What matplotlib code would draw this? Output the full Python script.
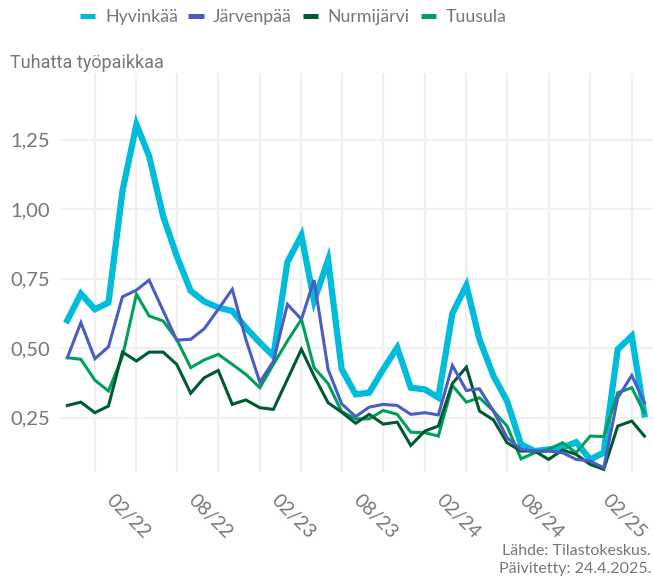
import matplotlib
matplotlib.use("Agg")
import matplotlib.pyplot as plt
import matplotlib.dates as mdates
import matplotlib.transforms as mtransforms
import numpy as np
import pandas as pd
from matplotlib.lines import Line2D

# monthly data 09/2021 - 03/2025, thousands of job vacancies
months = pd.date_range("2021-09-01", "2025-03-01", freq="MS")

hyvinkaa = [0.60, 0.696, 0.64, 0.664, 1.065, 1.305, 1.191, 0.975, 0.832, 0.706, 0.668,
            0.646, 0.634, 0.574, 0.52, 0.472, 0.81, 0.906, 0.67, 0.817, 0.425,
            0.334, 0.34, 0.424, 0.502, 0.358, 0.352, 0.322, 0.625, 0.726, 0.532,
            0.40, 0.31, 0.154, 0.13, 0.136, 0.142, 0.162, 0.10, 0.124, 0.496, 0.544, 0.262]
jarvenpaa = [0.466, 0.592, 0.462, 0.505, 0.685, 0.709, 0.745, 0.635, 0.529, 0.532, 0.570,
             0.64, 0.712, 0.532, 0.378, 0.453, 0.658, 0.604, 0.745, 0.424, 0.30,
             0.254, 0.288, 0.298, 0.294, 0.262, 0.268, 0.26, 0.438, 0.348, 0.354,
             0.274, 0.178, 0.136, 0.13, 0.13, 0.124, 0.10, 0.094, 0.07, 0.322, 0.402, 0.304]
nurmijarvi = [0.294, 0.306, 0.268, 0.292, 0.486, 0.454, 0.486, 0.486, 0.442, 0.338, 0.394,
              0.42, 0.298, 0.314, 0.286, 0.28, 0.388, 0.496, 0.40, 0.304, 0.27,
              0.23, 0.262, 0.227, 0.234, 0.15, 0.202, 0.22, 0.373, 0.432, 0.274,
              0.242, 0.16, 0.13, 0.13, 0.10, 0.134, 0.118, 0.082, 0.064, 0.22, 0.238, 0.184]
tuusula = [0.466, 0.46, 0.385, 0.346, 0.47, 0.694, 0.616, 0.598, 0.532, 0.43, 0.458,
           0.478, 0.442, 0.406, 0.358, 0.442, 0.526, 0.604, 0.43, 0.373, 0.272,
           0.246, 0.246, 0.276, 0.262, 0.198, 0.196, 0.184, 0.366, 0.306, 0.322,
           0.274, 0.22, 0.102, 0.124, 0.136, 0.16, 0.124, 0.184, 0.182, 0.34, 0.358, 0.268]

names = ["Hyvinkää", "Järvenpää", "Nurmijärvi", "Tuusula"]
colors = ["#00bcdc", "#4b5cc4", "#005a2f", "#00a05c"]
widths = [4.5, 2.2, 2.2, 2.2]
series = [hyvinkaa, jarvenpaa, nurmijarvi, tuusula]

yticks = [0.25, 0.50, 0.75, 1.00, 1.25]
ytick_labels = ["0,25", "0,50", "0,75", "1,00", "1,25"]

txt = "#777777"
plt.rcParams["font.family"] = ["Lato", "DejaVu Sans"]

fig = plt.figure(figsize=(6.53, 5.79), dpi=100)
ax = fig.add_axes([61 / 653, 1 - 471.7 / 579, 592 / 653, (471.7 - 73) / 579])

# thin lines first, Järvenpää drawn over Hyvinkää like in the original
for i in [3, 2, 0, 1]:
    ax.plot(months, series[i], color=colors[i], lw=widths[i], solid_joinstyle="miter",
            zorder=3 if i else 2.5)

ax.set_ylim(0.0558, 1.49)
ax.set_xlim(months[0] - pd.Timedelta(days=14), months[-1] + pd.Timedelta(days=19))
ax.set_yticks(yticks)
ax.set_yticklabels(ytick_labels)

ax.xaxis.set_major_locator(mdates.MonthLocator(bymonth=[2, 8]))
ax.xaxis.set_minor_locator(mdates.MonthLocator(bymonth=[5, 11]))
ax.xaxis.set_major_formatter(mdates.DateFormatter("%m/%y"))

ax.grid(True, which="both", color="#f0f0f0", lw=1.6)
ax.set_axisbelow(True)
for s in ax.spines.values():
    s.set_visible(False)
ax.tick_params(which="both", length=0)
ax.tick_params(axis="y", labelsize=14.5, labelcolor=txt, pad=8)
ax.tick_params(axis="x", labelsize=14, labelcolor=txt, pad=14)
off = mtransforms.ScaledTranslation(-8 / 100, 0, fig.dpi_scale_trans)
for lab in ax.get_xticklabels():
    lab.set_rotation(-45)
    lab.set_ha("center")
    lab.set_va("top")
    lab.set_transform(lab.get_transform() + off)

fig.text(10 / 653, 1 - 63 / 579, "Tuhatta työpaikkaa", fontsize=13, color=txt,
         ha="left", va="center", family=["Roboto", "DejaVu Sans"])

handles = [Line2D([], [], color=c, lw=3.6, solid_capstyle="butt") for c in colors]
leg = fig.legend(handles, names, loc="center left", bbox_to_anchor=(80 / 653, 1 - 17 / 579),
                 ncol=4, frameon=False, handlelength=0.85, handletextpad=0.55,
                 columnspacing=0.6, borderpad=0, borderaxespad=0, prop={"size": 12.8})
for t in leg.get_texts():
    t.set_color(txt)

fig.text(651 / 653, 1 - 551 / 579, "Lähde: Tilastokeskus.", fontsize=11.5, color=txt,
         ha="right", va="center")
fig.text(651 / 653, 1 - 569 / 579, "Päivitetty: 24.4.2025.", fontsize=11.5, color=txt,
         ha="right", va="center")

fig.savefig("out.png", dpi=100)
